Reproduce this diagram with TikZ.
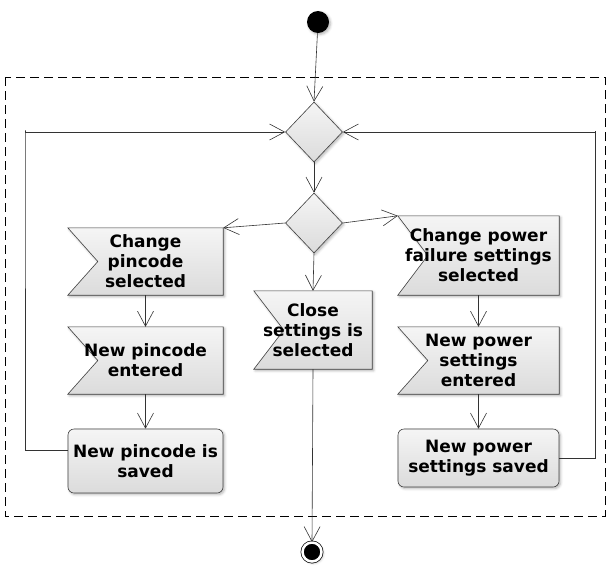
\documentclass[tikz,border=0pt]{standalone}
\usepackage{fontspec}
\setmainfont{DejaVu Sans}
\usetikzlibrary{
    arrows.meta,
    positioning,
    calc,
    backgrounds,
    shadows.blur,
    shapes.geometric,
}

\begin{document}
\begin{tikzpicture}[
    x=1pt, y=-1pt,
    every node/.style={font=\fontsize{17}{20}\selectfont\bfseries},
    softshadow/.style={blur shadow={shadow xshift=1.5pt, shadow yshift=-1.5pt,
    shadow blur radius=2.5pt, shadow opacity=30}},
    stepshade/.style={draw=black!75, line width=0.6pt, top color=black!4,
    bottom color=black!14, softshadow},
    eventbox/.style={draw=none, align=center, inner sep=0pt, minimum
    width=155pt, minimum height=67pt},
    actionbox/.style={stepshade, rounded corners=6pt, align=center, inner
    sep=0pt, minimum width=155pt, minimum height=64pt},
    choice/.style={diamond, stepshade, inner sep=0pt, minimum width=57pt,
    minimum height=60pt},
    initial/.style={circle, fill=black, inner sep=0pt, minimum size=22pt,
    softshadow},
    final/.style={circle, draw=black, line width=0.7pt, double=white, double
    distance=2.5pt, fill=black, inner sep=0pt, minimum size=19pt, softshadow},
    flow/.style={-{Straight Barb[length=15pt,width=16pt]}, line width=0.6pt,
    draw=black!80},
]

\useasboundingbox (0,0) rectangle (612,576);

% SETTINGS FRAME
\draw[dashed, dash pattern=on 9pt off 5pt, line width=0.6pt] (5,77)
    rectangle (605,516);

% START AND CHOICES
\node[initial] at (318,22) (start) {};
\node[choice] at (314,132) (merge) {};
\node[choice] at (314,223) (decide) {};

% PINCODE
\node[eventbox] at (145.5,261.5) (pinsel) {Change\\pincode\\selected};
\node[eventbox] at (145.5,360.5) (pinent) {New pincode\\entered};
\node[actionbox] at (145.5,461) (pinsav) {New pincode is\\saved};

% CLOSE
\node[eventbox, minimum width=118pt, minimum height=78pt] at (313,330)
    (closesel) {Close\\settings is\\selected};
\node[final] at (312,552) (stop) {};

% POWER SETTINGS
\node[eventbox, minimum width=161pt, minimum height=79pt] at (478.5,255.5)
    (powsel) {Change power\\failure settings\\selected};
\node[eventbox, minimum width=161pt] at (478.5,360.5) (powent)
    {New power\\settings\\entered};
\node[actionbox, minimum width=161pt, minimum height=58pt] at (478.5,458)
    (powsav) {New power\\settings saved};

% EVENT SHAPES
\begin{scope}[on background layer]
\foreach \n in {pinsel, pinent, closesel, powsel, powent}
    \path[stepshade] (\n.north west) -- (\n.north east) -- (\n.south east)
        -- (\n.south west) -- ($(\n.west)+(30,0)$) -- cycle;
\end{scope}

% FLOWS
\draw[flow] (start) -- (merge.north);
\draw[flow] (merge.south) -- (decide.north);
\draw[flow] (decide.west) -- (pinsel.north east);
\draw[flow] (decide.south) -- (closesel.north);
\draw[flow] (decide.east) -- (powsel.north west);
\draw[flow] (pinsel) -- (pinent);
\draw[flow] (pinent) -- (pinsav);
\draw[flow] (powsel) -- (powent);
\draw[flow] (powent) -- (powsav);
\draw[flow] (closesel.south) -- (stop.north);

% LOOPS
\coordinate (loopL) at (25,130);
\coordinate (loopR) at (595,131);
\draw[flow] ([yshift=11pt]pinsav.west) -| (loopL) |- (merge.west);
\draw[flow] (powsav.east) -| (loopR) |- (merge.east);

\end{tikzpicture}
\end{document}
